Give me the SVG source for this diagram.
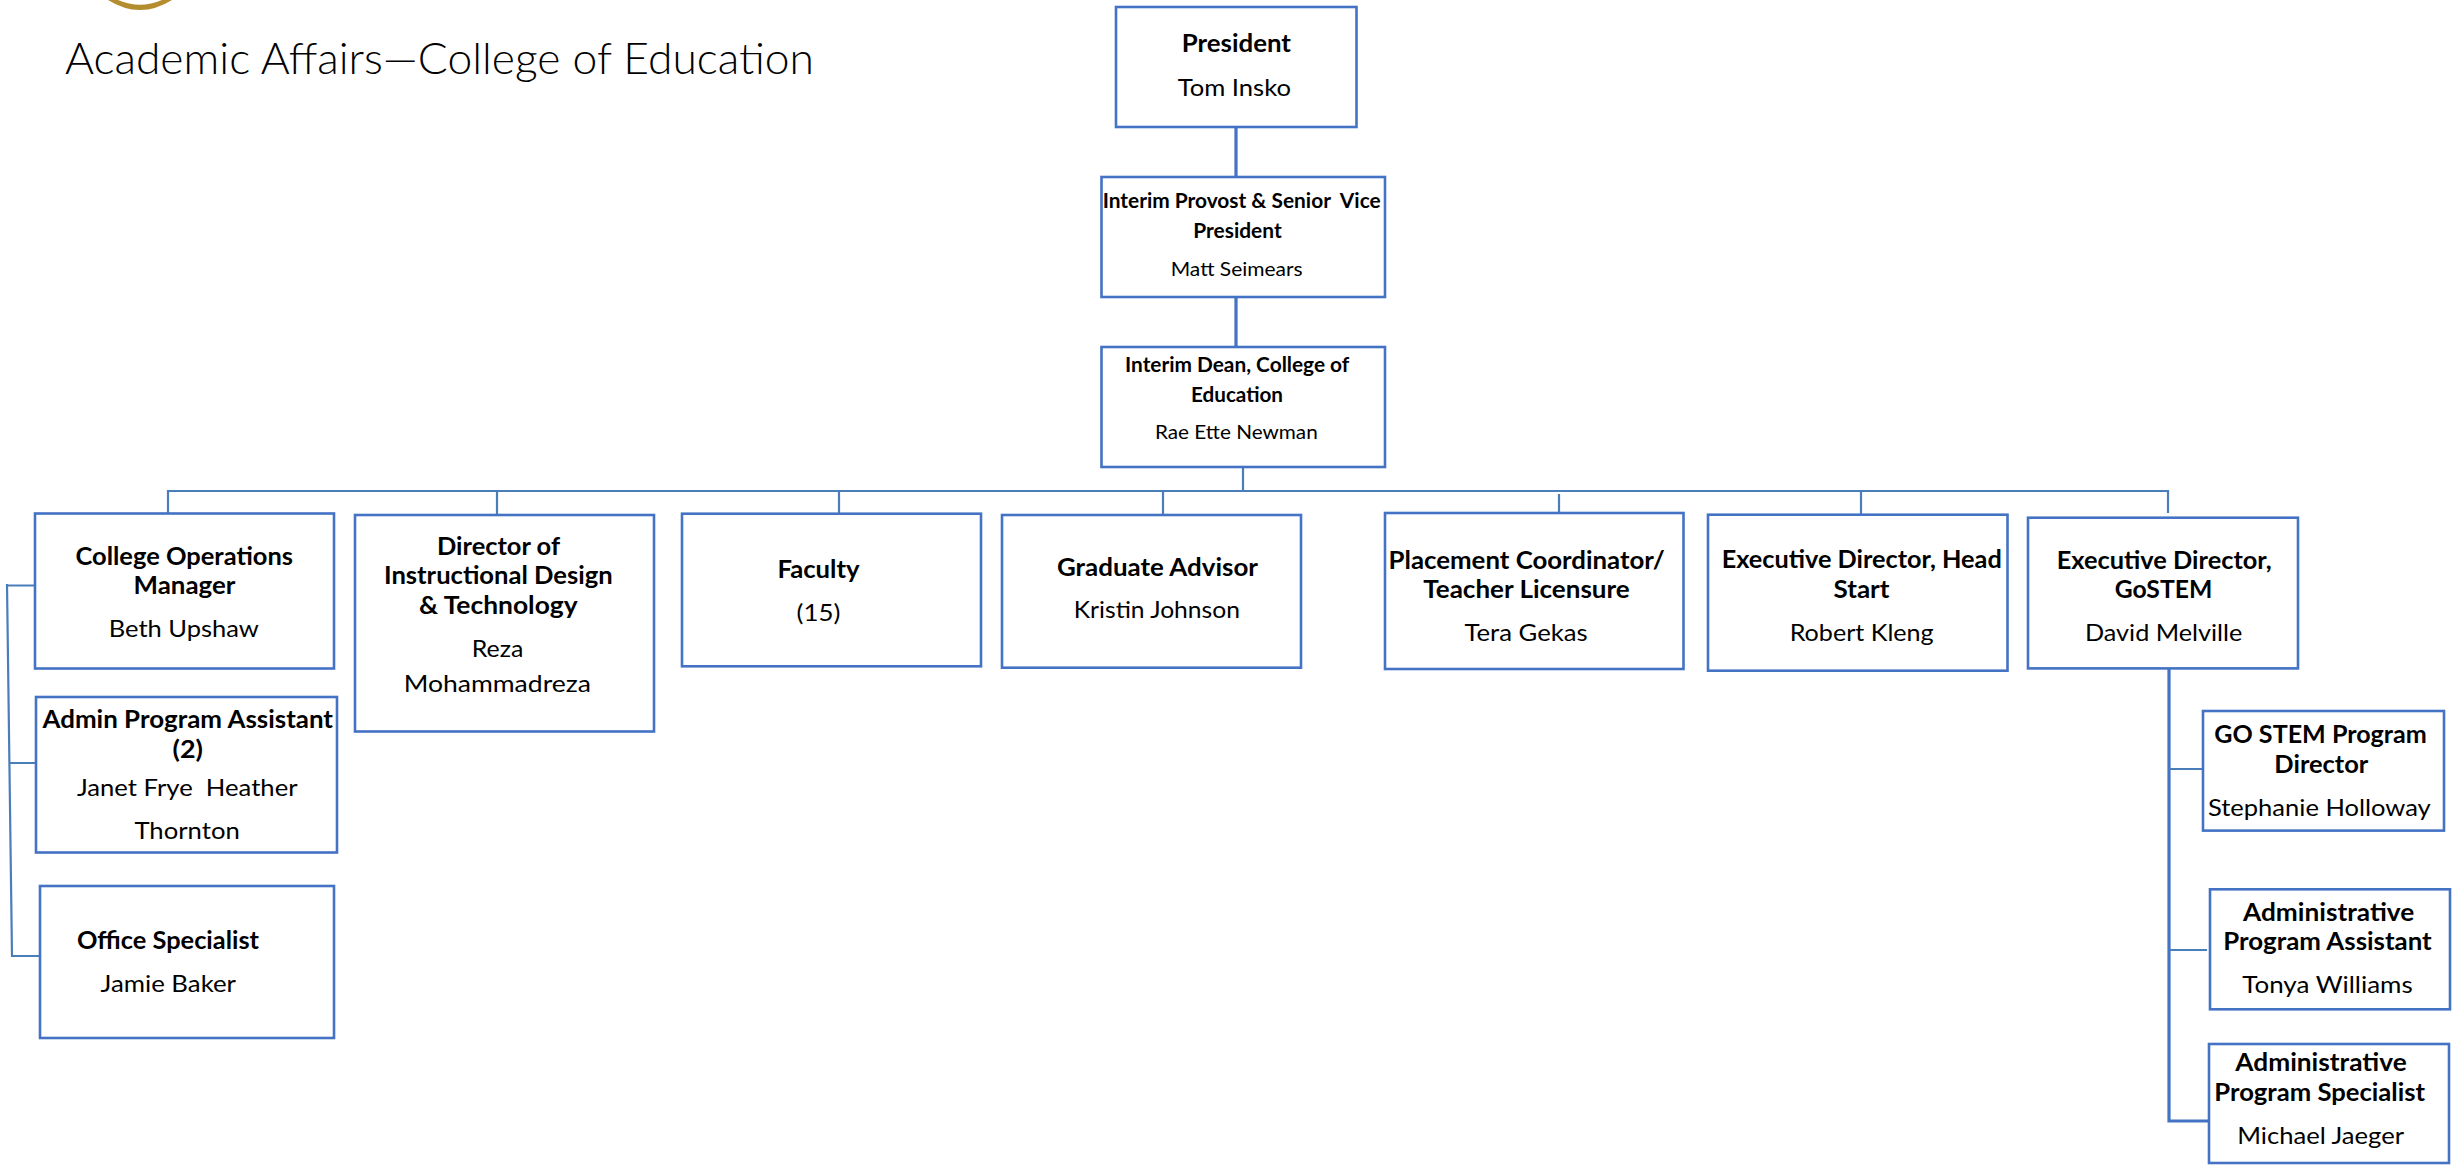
<svg xmlns="http://www.w3.org/2000/svg" width="2458" height="1167" viewBox="0 0 2458 1167">
<style>
text{font-family:"Lato","Open Sans","Liberation Sans",sans-serif;fill:#000;font-size:24px}
.b{font-weight:700}
.s{font-size:20px}
.t{font-size:43px;font-weight:300;fill:#000}
.box{fill:#fff;stroke:#4472c4;stroke-width:2.600}
.c{fill:none;stroke:#4a7ebb;stroke-width:2.200}
.c2{fill:none;stroke:#4472c4;stroke-width:3.200}
</style>
<rect width="2458" height="1167" fill="#fff"/>
<path d="M108 0Q140 20 172 0H162Q140 9.400 118 0Z" fill="#b48d2e"/>
<text class="t" x="65" y="74" textLength="749" lengthAdjust="spacingAndGlyphs">Academic Affairs—College of Education</text>
<g id="connectors">
<path class="c2" d="M1236 127V177M1236 297V347"/>
<path class="c" d="M1243 467V491M168 513V491H2168V513M497 491V517M839 491V513M1163 491V515M1559 494V517M1861 491V515"/>
<path class="c" d="M7 584L12 956H40M7 585.500H35M9 763H36"/>
<path class="c2" d="M2169 669V1121H2209"/>
<path class="c" d="M2169 769H2203M2170 950H2207"/>
</g>
<g id="president"><rect class="box" x="1116" y="7" width="240.500" height="120"/>
<text class="b" x="1181.700" y="52.300" textLength="109.300" lengthAdjust="spacingAndGlyphs">President</text>
<text x="1177.700" y="95.700" textLength="113.300" lengthAdjust="spacingAndGlyphs">Tom Insko</text></g>
<g id="provost"><rect class="box" x="1101.500" y="177" width="283.500" height="120"/>
<text class="b s" x="1102.700" y="207.700" textLength="278" lengthAdjust="spacingAndGlyphs" xml:space="preserve">Interim Provost &amp; Senior  Vice</text>
<text class="b s" x="1193.300" y="237.700" textLength="88.400" lengthAdjust="spacingAndGlyphs">President</text>
<text class="s" x="1170.700" y="275.700" textLength="132" lengthAdjust="spacingAndGlyphs">Matt Seimears</text></g>
<g id="dean"><rect class="box" x="1101.500" y="347" width="283.500" height="120"/>
<text class="b s" x="1125" y="371.700" textLength="224.300" lengthAdjust="spacingAndGlyphs">Interim Dean, College of</text>
<text class="b s" x="1191" y="401.700" textLength="92" lengthAdjust="spacingAndGlyphs">Education</text>
<text class="s" x="1155" y="439" textLength="162.700" lengthAdjust="spacingAndGlyphs">Rae Ette Newman</text></g>
<g id="college-ops"><rect class="box" x="35" y="513.500" width="299" height="155"/>
<text class="b" x="75.500" y="564.700" textLength="217.500" lengthAdjust="spacingAndGlyphs">College Operations</text>
<text class="b" x="133.600" y="593.800" textLength="101.900" lengthAdjust="spacingAndGlyphs">Manager</text>
<text x="108.800" y="637" textLength="150.100" lengthAdjust="spacingAndGlyphs">Beth Upshaw</text></g>
<g id="director-id"><rect class="box" x="355" y="515" width="299" height="216.500"/>
<text class="b" x="437" y="554.500" textLength="123" lengthAdjust="spacingAndGlyphs">Director of</text>
<text class="b" x="384" y="584.400" textLength="228.700" lengthAdjust="spacingAndGlyphs">Instructional Design</text>
<text class="b" x="419" y="613.800" textLength="158.600" lengthAdjust="spacingAndGlyphs">&amp; Technology</text>
<text x="471.800" y="657" textLength="51.600" lengthAdjust="spacingAndGlyphs">Reza</text>
<text x="403.700" y="692" textLength="187.300" lengthAdjust="spacingAndGlyphs">Mohammadreza</text></g>
<g id="admin-assistant"><rect class="box" x="36" y="697" width="301" height="155.500"/>
<text class="b" x="42.500" y="728" textLength="290.500" lengthAdjust="spacingAndGlyphs">Admin Program Assistant</text>
<text class="b" x="172.600" y="757.500" textLength="30.400" lengthAdjust="spacingAndGlyphs">(2)</text>
<text x="77" y="796.400" textLength="220.500" lengthAdjust="spacingAndGlyphs" xml:space="preserve">Janet Frye  Heather</text>
<text x="134.400" y="839" textLength="105.400" lengthAdjust="spacingAndGlyphs">Thornton</text></g>
<g id="office-specialist"><rect class="box" x="40" y="886" width="294" height="152"/>
<text class="b" x="77" y="948.700" textLength="182" lengthAdjust="spacingAndGlyphs">Office Specialist</text>
<text x="100.600" y="992" textLength="135.400" lengthAdjust="spacingAndGlyphs">Jamie Baker</text></g>
<g id="faculty"><rect class="box" x="682" y="513.700" width="299" height="152.600"/>
<text class="b" x="777.400" y="577.700" textLength="82.200" lengthAdjust="spacingAndGlyphs">Faculty</text>
<text x="796.600" y="621" textLength="43.800" lengthAdjust="spacingAndGlyphs">(15)</text></g>
<g id="graduate-advisor"><rect class="box" x="1002" y="515" width="299" height="152.700"/>
<text class="b" x="1056.900" y="575.700" textLength="201.100" lengthAdjust="spacingAndGlyphs">Graduate Advisor</text>
<text x="1073.800" y="618" textLength="166.200" lengthAdjust="spacingAndGlyphs">Kristin Johnson</text></g>
<g id="placement"><rect class="box" x="1385" y="513" width="298.500" height="156"/>
<text class="b" x="1388.600" y="569" textLength="276.300" lengthAdjust="spacingAndGlyphs">Placement Coordinator/</text>
<text class="b" x="1423.300" y="598" textLength="206.400" lengthAdjust="spacingAndGlyphs">Teacher Licensure</text>
<text x="1464.500" y="641" textLength="123.200" lengthAdjust="spacingAndGlyphs">Tera Gekas</text></g>
<g id="head-start"><rect class="box" x="1708" y="514.700" width="299.500" height="156"/>
<text class="b" x="1721.700" y="568" textLength="280.100" lengthAdjust="spacingAndGlyphs">Executive Director, Head</text>
<text class="b" x="1833.500" y="597.700" textLength="56" lengthAdjust="spacingAndGlyphs">Start</text>
<text x="1789.700" y="640.700" textLength="144" lengthAdjust="spacingAndGlyphs">Robert Kleng</text></g>
<g id="gostem"><rect class="box" x="2028" y="517.700" width="270" height="150.700"/>
<text class="b" x="2056.700" y="569.400" textLength="215" lengthAdjust="spacingAndGlyphs">Executive Director,</text>
<text class="b" x="2114.700" y="598.300" textLength="97.600" lengthAdjust="spacingAndGlyphs">GoSTEM</text>
<text x="2085" y="641.300" textLength="157.300" lengthAdjust="spacingAndGlyphs">David Melville</text></g>
<g id="gostem-director"><rect class="box" x="2203" y="711" width="241" height="119.600"/>
<text class="b" x="2214.300" y="743.400" textLength="212.400" lengthAdjust="spacingAndGlyphs">GO STEM Program</text>
<text class="b" x="2274.300" y="773.200" textLength="94" lengthAdjust="spacingAndGlyphs">Director</text>
<text x="2208" y="815.700" textLength="222.700" lengthAdjust="spacingAndGlyphs">Stephanie Holloway</text></g>
<g id="program-assistant"><rect class="box" x="2210" y="889.300" width="240" height="120"/>
<text class="b" x="2243" y="920.800" textLength="171.300" lengthAdjust="spacingAndGlyphs">Administrative</text>
<text class="b" x="2223.300" y="950.200" textLength="208.400" lengthAdjust="spacingAndGlyphs">Program Assistant</text>
<text x="2242.300" y="993" textLength="170.400" lengthAdjust="spacingAndGlyphs">Tonya Williams</text></g>
<g id="program-specialist"><rect class="box" x="2209" y="1044" width="240" height="119"/>
<text class="b" x="2235.300" y="1071" textLength="171.400" lengthAdjust="spacingAndGlyphs">Administrative</text>
<text class="b" x="2214.300" y="1101" textLength="210.700" lengthAdjust="spacingAndGlyphs">Program Specialist</text>
<text x="2237.300" y="1144.300" textLength="166.700" lengthAdjust="spacingAndGlyphs">Michael Jaeger</text></g>
</svg>
